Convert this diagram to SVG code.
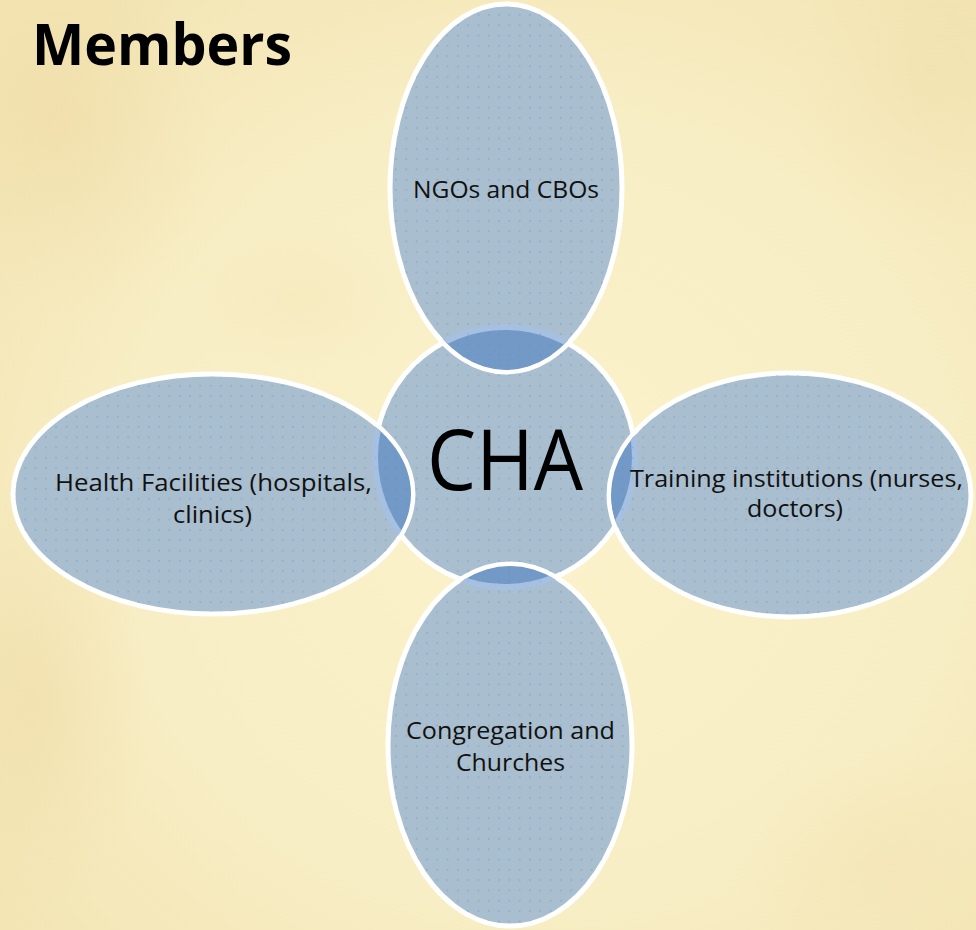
<svg xmlns="http://www.w3.org/2000/svg" width="976" height="930" viewBox="0 0 976 930">
  <defs>
    <radialGradient id="bgGlow" cx="0.55" cy="0.55" r="0.7">
      <stop offset="0" stop-color="#FBF2CB"/>
      <stop offset="0.6" stop-color="#F8EEC5"/>
      <stop offset="1" stop-color="#F3E5B4"/>
    </radialGradient>
    <radialGradient id="warm" cx="0.5" cy="0.5" r="0.5">
      <stop offset="0" stop-color="#EFDBA6" stop-opacity="0.55"/>
      <stop offset="1" stop-color="#EFDBA6" stop-opacity="0"/>
    </radialGradient>
    <pattern id="dots" patternUnits="userSpaceOnUse" width="10.3" height="10.3">
      <rect x="4" y="4" width="1.2" height="1.2" fill="#4F82C8" fill-opacity="0.55"/>
    </pattern>
    <clipPath id="clipTop"><ellipse cx="506" cy="188" rx="114" ry="182"/></clipPath>
    <clipPath id="clipLeft"><ellipse cx="213" cy="494" rx="198" ry="118"/></clipPath>
    <clipPath id="clipRight"><ellipse cx="790" cy="495" rx="179" ry="120"/></clipPath>
    <clipPath id="clipBottom"><ellipse cx="510" cy="745" rx="120" ry="179"/></clipPath>
  </defs>
  <style>
    .shape { fill: #A9BECE; stroke: #FFFFFF; stroke-width: 5; }
    .dots { fill: url(#dots); stroke: none; }
    .lens { fill: #7399C6; stroke: #A6C0E2; stroke-width: 6; }
    .label { font-family: "Open Sans", "Liberation Sans", sans-serif; font-size: 23px; fill: #111111; text-anchor: middle; }
    .center { font-family: "Open Sans", "Liberation Sans", sans-serif; font-size: 84px; fill: #000000; text-anchor: middle; }
    .title { font-family: "Open Sans", "Liberation Sans", sans-serif; font-size: 57px; font-weight: bold; fill: #000000; }
  </style>

  <g id="background">
    <rect x="0" y="0" width="976" height="930" fill="url(#bgGlow)"/>
    <ellipse cx="60" cy="120" rx="160" ry="200" fill="url(#warm)"/>
    <ellipse cx="30" cy="700" rx="120" ry="220" fill="url(#warm)"/>
    <ellipse cx="930" cy="80" rx="140" ry="160" fill="url(#warm)" opacity="0.6"/>
    <ellipse cx="300" cy="300" rx="120" ry="80" fill="url(#warm)" opacity="0.4"/>
    <ellipse cx="880" cy="860" rx="150" ry="120" fill="url(#warm)" opacity="0.5"/>
  </g>

  <g id="title">
    <text class="title" x="32" y="65" textLength="260" lengthAdjust="spacingAndGlyphs">Members</text>
  </g>

  <g id="node-cha">
    <circle class="shape" cx="505" cy="457" r="130"/>
    <circle class="dots" cx="505" cy="457" r="128"/>
    <text class="center" x="505" y="490" textLength="156" lengthAdjust="spacingAndGlyphs">CHA</text>
  </g>

  <g id="connectors"></g>

  <g id="node-ngos">
    <ellipse class="shape" cx="506" cy="188" rx="116" ry="184"/>
    <ellipse class="dots" cx="506" cy="188" rx="114" ry="182"/>
    <circle class="lens" cx="505" cy="457" r="130" clip-path="url(#clipTop)"/>
    <circle class="dots" cx="505" cy="457" r="130" clip-path="url(#clipTop)"/>
    <text class="label" x="506" y="198" textLength="186" lengthAdjust="spacingAndGlyphs">NGOs and CBOs</text>
  </g>

  <g id="node-health">
    <ellipse class="shape" cx="213" cy="494" rx="200" ry="120"/>
    <ellipse class="dots" cx="213" cy="494" rx="198" ry="118"/>
    <circle class="lens" cx="505" cy="457" r="130" clip-path="url(#clipLeft)"/>
    <circle class="dots" cx="505" cy="457" r="130" clip-path="url(#clipLeft)"/>
    <text class="label" x="213.5" y="491" textLength="317" lengthAdjust="spacingAndGlyphs">Health Facilities (hospitals,</text>
    <text class="label" x="212.5" y="523" textLength="79" lengthAdjust="spacingAndGlyphs">clinics)</text>
  </g>

  <g id="node-training">
    <ellipse class="shape" cx="790" cy="495" rx="181" ry="122"/>
    <ellipse class="dots" cx="790" cy="495" rx="179" ry="120"/>
    <circle class="lens" cx="505" cy="457" r="130" clip-path="url(#clipRight)"/>
    <circle class="dots" cx="505" cy="457" r="130" clip-path="url(#clipRight)"/>
    <text class="label" x="796.5" y="487" textLength="333" lengthAdjust="spacingAndGlyphs">Training institutions (nurses,</text>
    <text class="label" x="795" y="517" textLength="96" lengthAdjust="spacingAndGlyphs">doctors)</text>
  </g>

  <g id="node-congregation">
    <ellipse class="shape" cx="510" cy="745" rx="122" ry="181"/>
    <ellipse class="dots" cx="510" cy="745" rx="120" ry="179"/>
    <circle class="lens" cx="505" cy="457" r="130" clip-path="url(#clipBottom)"/>
    <circle class="dots" cx="505" cy="457" r="130" clip-path="url(#clipBottom)"/>
    <text class="label" x="510.5" y="739" textLength="209" lengthAdjust="spacingAndGlyphs">Congregation and</text>
    <text class="label" x="510.5" y="771" textLength="109" lengthAdjust="spacingAndGlyphs">Churches</text>
  </g>
</svg>
